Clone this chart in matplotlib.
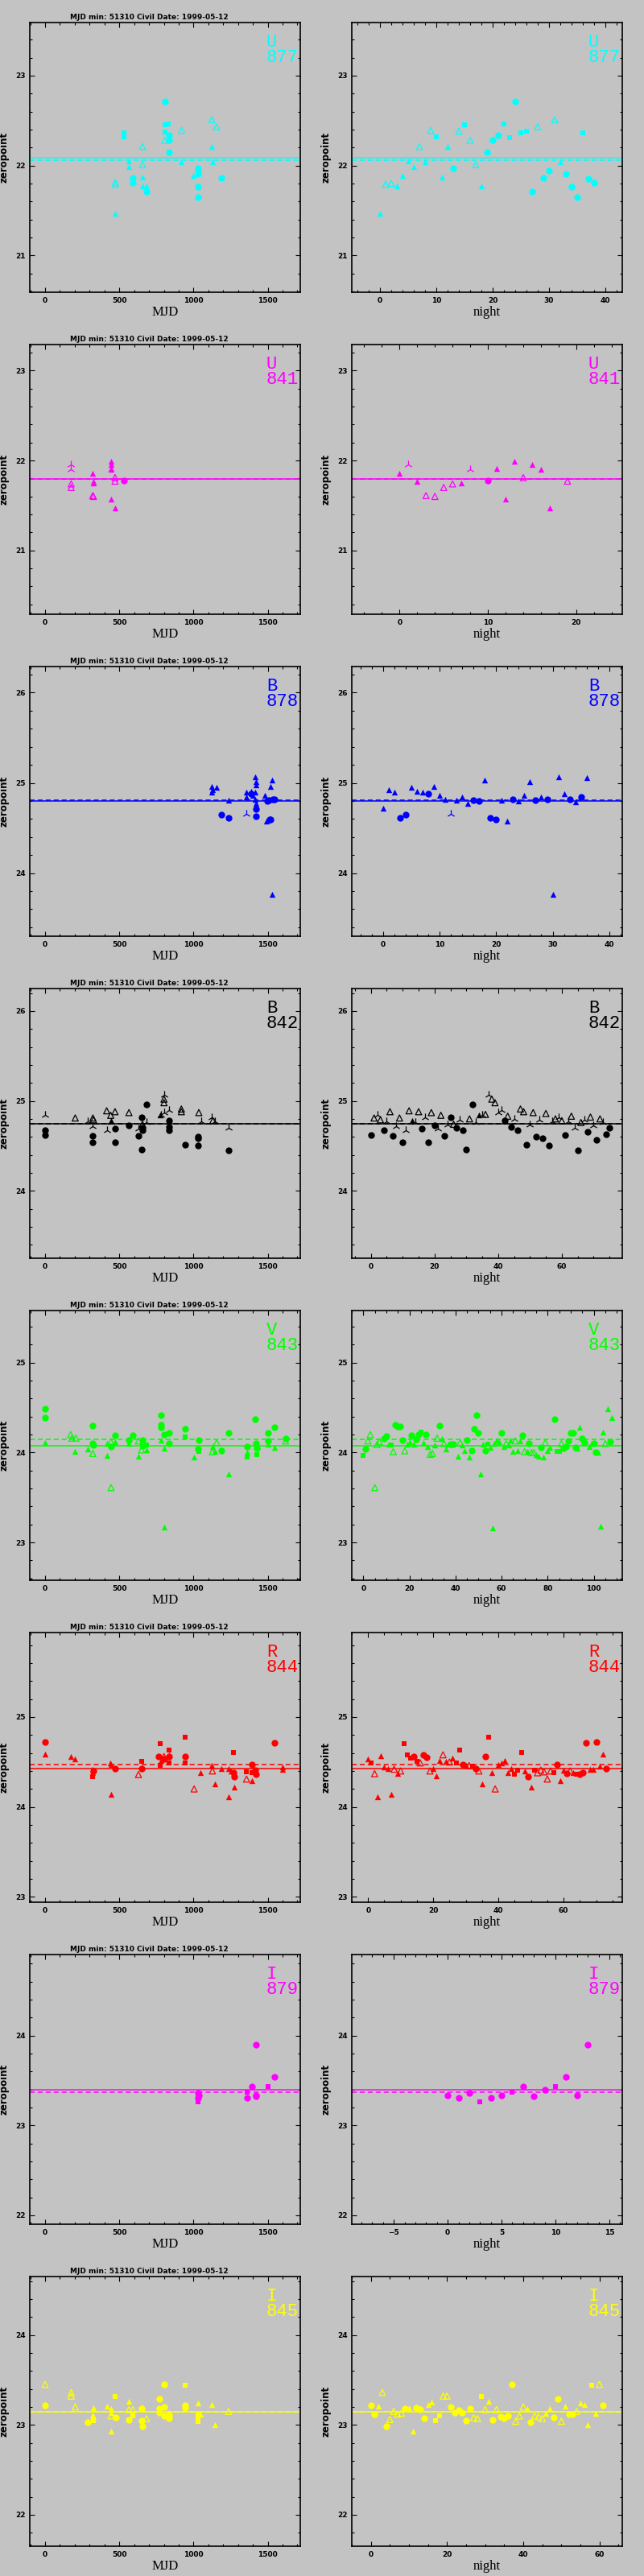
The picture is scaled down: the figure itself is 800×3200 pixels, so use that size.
import matplotlib
matplotlib.use('Agg')
import matplotlib.pyplot as plt
from matplotlib.ticker import MultipleLocator

BG = '#c3c3c3'
TITLE = 'MJD min: 51310 Civil Date: 1999-05-12'

# marker codes: o filled circle, s filled square, ^ filled triangle,
#               t open triangle, y three-armed star
def codes(s):
    return s.replace(' ', '')

# ---------------- U 877 ----------------
u877_mjd = [471, 473, 473, 532, 532, 565, 565, 592, 592, 656, 656, 656, 656, 682, 682,
            806, 806, 832, 806, 806, 833, 833, 833, 919, 919, 1000, 1033, 1033, 1033,
            1033, 1033, 1123, 1123, 1126, 1154, 1187]
u877_mjd_zp = [21.47, 21.79, 21.81, 22.36, 22.32, 22.05, 21.99, 21.86, 21.81, 22.21, 22.01,
               21.87, 21.77, 21.77, 21.71, 22.71, 22.45, 22.46, 22.37, 22.28, 22.34, 22.28,
               22.15, 22.39, 22.04, 21.89, 21.97, 21.94, 21.91, 21.76, 21.65, 22.51, 22.21,
               22.04, 22.43, 21.86]
u877_mjd_sym = codes('^ttss ^^oot t^^^o ossst ooot^ ^oooo ot^^to')
u877_night = list(range(39))
u877_night_zp = [21.47, 21.79, 21.80, 21.77, 21.89, 22.05, 21.99, 22.21, 22.04, 22.39, 22.32,
                 21.87, 22.21, 21.97, 22.38, 22.45, 22.28, 22.01, 21.77, 22.15, 22.28, 22.34,
                 22.46, 22.31, 22.71, 22.36, 22.38, 21.71, 22.43, 21.86, 21.94, 22.51, 22.04,
                 21.91, 21.76, 21.65, 22.36, 21.85, 21.81]
u877_night_sym = codes('^tt^^ ^^t^t s^^ot stt^o oosso ssoto ot^oo osoo')

# ---------------- U 841 ----------------
u841_mjd = [176, 176, 176, 176, 321, 326, 326, 321, 326, 444, 444, 442, 442, 447, 471, 471, 471, 533]
u841_mjd_zp = [21.96, 21.90, 21.74, 21.70, 21.86, 21.77, 21.75, 21.61, 21.60, 21.99, 21.96,
               21.91, 21.90, 21.57, 21.81, 21.77, 21.47, 21.78]
u841_mjd_sym = codes('yytt^ ^^tt^ ^^^^t t^o')
u841_night = [0, 1, 2, 3, 4, 5, 6, 7, 8, 10, 11, 12, 13, 14, 15, 16, 17, 19]
u841_night_zp = [21.86, 21.96, 21.77, 21.61, 21.60, 21.70, 21.74, 21.75, 21.90, 21.78, 21.91,
                 21.57, 21.99, 21.81, 21.96, 21.90, 21.47, 21.77]
u841_night_sym = codes('^y^tt tt^yo ^^^t^ ^^t')

# ---------------- B 878 ----------------
b878_mjd = [1123, 1123, 1127, 1156, 1187, 1236, 1236, 1357, 1357, 1357, 1390, 1390, 1399, 1417,
            1420, 1420, 1417, 1417, 1420, 1420, 1420, 1480, 1489, 1498, 1507, 1513, 1516, 1516,
            1531, 1534, 1547, 1531]
b878_mjd_zp = [24.96, 24.90, 24.92, 24.95, 24.65, 24.61, 24.81, 24.66, 24.90, 24.84, 24.91,
               24.88, 24.86, 25.07, 25.01, 24.98, 24.90, 24.82, 24.77, 24.71, 24.63, 24.86,
               24.58, 24.80, 24.81, 24.59, 24.59, 24.96, 25.03, 24.82, 24.82, 23.76]
b878_mjd_sym = codes('^^^^o o^y^^ ^o^^^ ^^^^o o^^oo oo^^o o^')
b878_night = list(range(37))
b878_night_zp = [24.72, 24.92, 24.90, 24.61, 24.65, 24.95, 24.91, 24.90, 24.88, 24.96, 24.86,
                 24.82, 24.66, 24.81, 24.84, 24.77, 24.81, 24.80, 25.03, 24.61, 24.59, 24.81,
                 24.58, 24.82, 24.80, 24.86, 25.01, 24.81, 24.84, 24.82, 23.76, 25.07,
                 24.88, 24.82, 24.79, 24.84, 25.06]
b878_night_sym = codes('^^^oo ^^^o^ ^^y^^ ^oo^o o^^o^ ^^o^o ^^ ^o^o^')

# ---------------- B 842 ----------------
b842_mjd = [0, 0, 0, 203, 290, 322, 326, 322, 322, 322, 415, 415, 442, 444, 444, 471, 471, 471,
            565, 565, 629, 629, 650, 656, 656, 656, 650, 683, 683, 774, 779, 804, 801, 801, 804,
            833, 833, 833, 833, 918, 918, 942, 1036, 1033, 1033, 1033, 1051, 1123, 1130, 1145,
            1236, 1236]
b842_mjd_zp = [24.84, 24.67, 24.62, 24.81, 24.77, 24.81, 24.79, 24.72, 24.61, 24.54, 24.89,
               24.67, 24.84, 24.78, 24.76, 24.88, 24.69, 24.54, 24.87, 24.73, 24.69, 24.61,
               24.82, 24.74, 24.70, 24.67, 24.46, 24.96, 24.76, 24.84, 24.84, 25.07, 25.02,
               24.98, 24.87, 24.90, 24.78, 24.71, 24.67, 24.91, 24.88, 24.51, 24.87, 24.60,
               24.58, 24.50, 24.77, 24.82, 24.78, 24.77, 24.70, 24.45]
b842_mjd_sym = codes('yooty ttyoo tyt^y tooto yooto oooy^ yytty yooot totoo oyyty yo')
b842_night = list(range(76))
b842_night_zp = [24.62, 24.81, 24.84, 24.79, 24.67, 24.77, 24.88, 24.61, 24.72, 24.81,
                 24.54, 24.67, 24.89, 24.78, 24.76, 24.88, 24.69, 24.82, 24.54, 24.87,
                 24.73, 24.69, 24.84, 24.61, 24.74, 24.82, 24.74, 24.70, 24.79, 24.67,
                 24.46, 24.80, 24.96, 24.76, 24.84, 24.84, 24.85, 25.07, 25.02, 24.98,
                 24.87, 24.90, 24.78, 24.83, 24.71, 24.80, 24.67, 24.91, 24.88, 24.51,
                 24.74, 24.87, 24.60, 24.79, 24.58, 24.86, 24.50, 24.77, 24.80, 24.82,
                 24.78, 24.62, 24.77, 24.83, 24.70, 24.45, 24.76, 24.79, 24.66, 24.82,
                 24.73, 24.57, 24.80, 24.76, 24.63, 24.70]
b842_night_sym = codes('otytoytoyt oyt^ytoyot oytoyotoyo otoy^ytytt yyotoyotto '
                       'ytoyotoyty toytyotyot yotyoo')

# ---------------- V 843 ----------------
v843_mjd = [0, 0, 0, 172, 181, 207, 203, 288, 322, 322, 326, 322, 417, 417, 444, 444, 444, 471,
            471, 565, 565, 592, 629, 629, 656, 650, 656, 683, 683, 779, 779, 779, 779, 804, 804,
            804, 833, 833, 946, 946, 1004, 1036, 1033, 1036, 1127, 1127, 1145, 1156, 1187, 1236,
            1236, 1359, 1359, 1362, 1417, 1420, 1426, 1426, 1431, 1504, 1504, 1504, 1543, 1543,
            1620, 1620]
v843_mjd_zp = [24.49, 24.39, 24.11, 24.20, 24.16, 24.16, 24.01, 24.04, 24.30, 24.10, 24.08,
               23.99, 23.97, 24.10, 24.12, 24.07, 23.61, 24.19, 24.12, 24.14, 24.10, 24.19,
               24.13, 23.96, 24.14, 24.03, 24.07, 24.08, 24.03, 24.42, 24.31, 24.28, 24.14,
               24.20, 24.05, 23.17, 24.22, 24.10, 24.26, 24.17, 23.95, 24.14, 24.04, 24.01,
               24.07, 24.01, 24.01, 24.11, 24.02, 24.22, 23.76, 24.07, 24.00, 23.95, 24.37,
               24.10, 24.05, 23.98, 24.07, 24.22, 24.13, 24.09, 24.28, 24.06, 24.16, 24.13]
v843_mjd_sym = codes('oo^tt t^^oo ot^^t oto^o ^ot^o tss^o oo^o^ ^ooos ^oos^ t^too ^o^so oos^o o^o^ot')
v843_night = [0, 1, 2, 3, 5, 6, 7, 9, 10, 11,
              12, 13, 14, 15, 16, 17, 18, 19, 20, 21,
              22, 23, 24, 25, 26, 27, 28, 29, 30, 31,
              32, 33, 34, 35, 36, 37, 38, 39, 41, 42,
              43, 44, 45, 46, 47, 48, 49, 50, 51, 52,
              53, 54, 55, 56, 57, 58, 59, 60, 61, 62,
              63, 64, 65, 66, 67, 68, 69, 70, 71, 72,
              73, 74, 75, 76, 77, 78, 79, 80, 81, 83,
              84, 85, 86, 87, 88, 89, 90, 91, 92, 93,
              94, 95, 96, 98, 99, 100, 101, 102, 103, 104,
              105, 106, 107, 108]
v843_night_zp = [23.97, 24.04, 24.13, 24.20, 23.61, 24.09, 24.12, 24.16, 24.18, 24.09,
                 24.08, 24.01, 24.31, 24.29, 24.29, 24.14, 24.02, 24.09, 24.12, 24.19,
                 24.09, 24.15, 24.20, 24.23, 24.11, 24.20, 24.07, 23.98, 23.99, 24.08,
                 24.16, 24.30, 24.16, 24.10, 24.04, 24.09, 24.09, 24.09, 23.96, 24.11,
                 24.08, 24.02, 24.14, 23.95, 24.02, 24.26, 24.42, 24.22, 23.76, 24.09,
                 24.02, 24.09, 24.06, 23.16, 24.10, 24.14, 24.12, 24.22, 24.07, 24.10,
                 24.08, 24.14, 24.01, 24.13, 24.02, 24.13, 24.19, 24.01, 24.01, 24.10,
                 24.00, 24.00, 23.98, 23.96, 24.06, 23.95, 24.11, 24.02, 24.06, 24.37,
                 24.01, 24.01, 24.10, 24.05, 24.07, 24.13, 24.22, 24.22, 24.06, 24.05,
                 24.28, 24.16, 24.11, 24.07, 24.10, 24.10, 24.00, 24.00, 23.18, 24.23,
                 24.10, 24.49, 24.12, 24.39]
v843_night_sym = codes('sottttt oo^ stoooot^^o ^oos^o^tt^ to^t^^oo^t ^^o^oooo^^ '
                       'os^^^^^o^t ^^^t^^ot^o tt^^o^t^^o sstoooooo^^ oo^^oo^^^t ^o^o')

# ---------------- R 844 ----------------
r844_mjd = [0, 0, 176, 203, 322, 322, 326, 322, 438, 444, 447, 471, 629, 650, 650, 764, 777, 774,
            779, 801, 804, 833, 833, 833, 833, 946, 946, 946, 1004, 1045, 1123, 1127, 1145, 1187,
            1236, 1236, 1254, 1268, 1268, 1272, 1277, 1353, 1357, 1393, 1393, 1393, 1417, 1420,
            1547, 1598, 1601]
r844_mjd_zp = [24.72, 24.59, 24.56, 24.53, 24.42, 24.38, 24.40, 24.34, 24.49, 24.47, 24.14,
               24.43, 24.36, 24.51, 24.43, 24.56, 24.70, 24.46, 24.52, 24.56, 24.53, 24.63,
               24.56, 24.49, 24.58, 24.78, 24.56, 24.49, 24.20, 24.38, 24.46, 24.40, 24.26,
               24.43, 24.43, 24.11, 24.40, 24.61, 24.38, 24.34, 24.22, 24.39, 24.31, 24.47,
               24.38, 24.29, 24.41, 24.36, 24.71, 24.44, 24.42]
r844_mjd_sym = codes('o^^^^ ^os^^ ^otso oss^t osos^ sost^ ^t^^^ ^^soo ^stos ^ooo^ ^')
r844_night = list(range(74))
r844_night_zp = [24.53, 24.49, 24.37, 24.11, 24.57, 24.44, 24.43, 24.14, 24.42, 24.37,
                 24.40, 24.70, 24.58, 24.54, 24.56, 24.51, 24.49, 24.58, 24.55, 24.40,
                 24.43, 24.35, 24.52, 24.58, 24.51, 24.50, 24.54, 24.49, 24.63, 24.47,
                 24.46, 24.46, 24.45, 24.43, 24.40, 24.26, 24.56, 24.78, 24.38, 24.20,
                 24.47, 24.49, 24.52, 24.38, 24.43, 24.36, 24.41, 24.61, 24.40, 24.34,
                 24.22, 24.41, 24.38, 24.41, 24.39, 24.31, 24.40, 24.38, 24.47, 24.29,
                 24.41, 24.37, 24.40, 24.38, 24.36, 24.36, 24.38, 24.71, 24.42, 24.42,
                 24.72, 24.45, 24.59, 24.43]
r844_night_sym = codes('^st^^^^^t^ tsssostoot ^^^t^t^sso ^tsot^os^t ^^^^^sss^o '
                       '^sttttts o^ ^ot^sooo^^ o^^o')

# ---------------- I 879 ----------------
i879_mjd = [1033, 1036, 1033, 1033, 1359, 1362, 1393, 1420, 1420, 1420, 1502, 1547]
i879_mjd_zp = [23.36, 23.33, 23.31, 23.26, 23.37, 23.31, 23.43, 23.90, 23.33, 23.32, 23.43, 23.54]
i879_mjd_sym = codes('oooss ooooo so')
i879_night = list(range(14))
i879_night_zp = [23.33, 23.31, 23.36, 23.26, 23.31, 23.33, 23.37, 23.43, 23.32, 23.40,
                 23.43, 23.54, 23.33, 23.90]
i879_night_sym = codes('ooosoosooo soooo')

# ---------------- I 845 ----------------
i845_mjd = [0, 0, 176, 176, 203, 288, 326, 322, 326, 326, 415, 444, 444, 444, 447, 471, 475,
            565, 565, 565, 592, 592, 650, 652, 650, 656, 683, 768, 768, 768, 804, 804, 804, 833,
            833, 833, 946, 946, 946, 1033, 1033, 1033, 1033, 1045, 1123, 1145, 1236]
i845_mjd_zp = [23.45, 23.22, 23.36, 23.32, 23.20, 23.03, 23.19, 23.11, 23.09, 23.05, 23.21,
               23.18, 23.14, 23.10, 22.93, 23.32, 23.08, 23.26, 23.17, 23.06, 23.17, 23.10,
               23.20, 23.18, 23.05, 22.98, 23.07, 23.29, 23.18, 23.14, 23.45, 23.20, 23.10,
               23.14, 23.11, 23.07, 23.44, 23.22, 23.19, 23.24, 23.12, 23.07, 23.04, 23.12,
               23.23, 23.00, 23.15]
i845_mjd_sym = codes('tottt o^^^s ^^^t^ so^to ts^oo otooo ooo^o osoo^ sss^^ ^t')
i845_night = list(range(62))
i845_night_zp = [23.22, 23.12, 23.21, 23.36, 22.98, 23.06, 23.15, 23.12, 23.13, 23.18,
                 23.19, 22.93, 23.19, 23.17, 23.07, 23.23, 23.25, 23.05, 23.10, 23.32,
                 23.32, 23.20, 23.14, 23.16, 23.14, 23.05, 23.18, 23.08, 23.07, 23.32,
                 23.17, 23.26, 23.06, 23.17, 23.09, 23.07, 23.10, 23.45, 23.04, 23.10,
                 23.20, 23.18, 23.03, 23.10, 23.09, 23.07, 23.13, 23.18, 23.08, 23.29,
                 23.04, 23.21, 23.12, 23.12, 23.15, 23.24, 23.23, 23.00, 23.44, 23.13,
                 23.45, 23.22]
i845_night_sym = codes('oo^totttto ^^ooo^^sst tooooootts t^otoooott t^ottt^^oo t^oot^^^s^ to')

bands = ['U', 'U', 'B', 'B', 'V', 'R', 'I', 'I']
chips = ['877', '841', '878', '842', '843', '844', '879', '845']
colors = ['#00ffff', '#ff00ff', '#0000ff', '#000000', '#00ff00', '#ff0000', '#ff00ff', '#ffff00']
zp_mean = [22.09, 21.79, 24.80, 24.75, 24.075, 24.43, 23.40, 23.15]
zp_median = [22.06, 21.79, 24.81, 24.75, 24.15, 24.47, 23.37, 23.15]
y_lims = [(20.59, 23.59), (20.29, 23.29), (23.30, 26.29), (23.25, 26.25),
          (22.58, 25.58), (22.94, 25.94), (21.90, 24.90), (21.65, 24.65)]
night_lims = [(-5, 43), (-5.4, 25.2), (-5.5, 42.3), (-6, 79),
              (-5, 112.4), (-5, 78), (-8.9, 16.2), (-5, 66)]
night_major = [10, 10, 10, 20, 20, 20, 5, 20]
night_minor = [2, 2, 2, 5, 5, 5, 1, 5]

mjd_sets = [(u877_mjd, u877_mjd_zp, u877_mjd_sym), (u841_mjd, u841_mjd_zp, u841_mjd_sym),
            (b878_mjd, b878_mjd_zp, b878_mjd_sym), (b842_mjd, b842_mjd_zp, b842_mjd_sym),
            (v843_mjd, v843_mjd_zp, v843_mjd_sym), (r844_mjd, r844_mjd_zp, r844_mjd_sym),
            (i879_mjd, i879_mjd_zp, i879_mjd_sym), (i845_mjd, i845_mjd_zp, i845_mjd_sym)]
night_sets = [(u877_night, u877_night_zp, u877_night_sym), (u841_night, u841_night_zp, u841_night_sym),
              (b878_night, b878_night_zp, b878_night_sym), (b842_night, b842_night_zp, b842_night_sym),
              (v843_night, v843_night_zp, v843_night_sym), (r844_night, r844_night_zp, r844_night_sym),
              (i879_night, i879_night_zp, i879_night_sym), (i845_night, i845_night_zp, i845_night_sym)]


def plot_points(ax, x, y, sym, color):
    n = min(len(x), len(y), len(sym))
    for code in 'ts^oy':
        idx = [i for i in range(n) if sym[i] == code]
        if not idx:
            continue
        xs = [x[i] for i in idx]
        ys = [y[i] for i in idx]
        if code == 't':
            ax.scatter(xs, ys, marker='^', s=30, facecolors='none', edgecolors=color,
                       linewidths=0.9, zorder=3)
        elif code == 'y':
            ax.scatter(xs, ys, marker='2', s=55, color=color, linewidths=0.9, zorder=3)
        elif code == 'o':
            ax.scatter(xs, ys, marker='o', s=36, color=color, linewidths=0, zorder=3)
        elif code == 's':
            ax.scatter(xs, ys, marker='s', s=22, color=color, linewidths=0, zorder=3)
        else:
            ax.scatter(xs, ys, marker='^', s=28, color=color, linewidths=0, zorder=3)


def setup(ax, xlim, ylim, xmaj, xmin, xlabel):
    ax.set_facecolor(BG)
    ax.set_xlim(xlim)
    ax.set_ylim(ylim)
    ax.xaxis.set_major_locator(MultipleLocator(xmaj))
    ax.xaxis.set_minor_locator(MultipleLocator(xmin))
    ax.yaxis.set_major_locator(MultipleLocator(1))
    ax.yaxis.set_minor_locator(MultipleLocator(0.2))
    ax.tick_params(which='both', direction='in', top=True, right=True, width=0.8,
                   labelsize=6.5, colors='black')
    ax.tick_params(which='major', length=4, pad=4)
    ax.tick_params(which='minor', length=2.2)
    for lab in ax.get_xticklabels() + ax.get_yticklabels():
        lab.set_fontweight('bold')
    for sp in ax.spines.values():
        sp.set_linewidth(1.2)
    ax.set_xlabel(xlabel, family='Liberation Serif', fontsize=12)
    ax.xaxis.set_label_coords(0.5, -0.05)
    ax.set_ylabel('zeropoint', fontweight='bold', fontsize=8.5)
    ax.yaxis.set_label_coords(-0.075, 0.5)


fig = plt.figure(figsize=(8, 32), dpi=100)
fig.patch.set_facecolor(BG)

for r in range(8):
    color = colors[r]
    for c in range(2):
        ax = fig.add_axes([(c * 400 + 37) / 800, 1 - (r * 400 + 363) / 3200,
                           336 / 800, 335 / 3200])
        if c == 0:
            x, y, sym = mjd_sets[r]
            setup(ax, (-103, 1719), y_lims[r], 500, 100, 'MJD')
            fig.text(87 / 800, 1 - (r * 400 + 21) / 3200, TITLE, fontsize=6.5,
                     fontweight='bold', va='center', ha='left')
        else:
            x, y, sym = night_sets[r]
            setup(ax, night_lims[r], y_lims[r], night_major[r], night_minor[r], 'night')
        ax.axhline(zp_mean[r], color=color, lw=1.1, zorder=2)
        ax.axhline(zp_median[r], color=color, lw=1.1, ls=(0, (4, 2.5)), zorder=2)
        plot_points(ax, x, y, sym, color)
        ax.text(0.875, 0.91, bands[r], transform=ax.transAxes, family='Liberation Mono',
                fontsize=16, color=color, va='baseline', ha='left')
        ax.text(0.875, 0.854, chips[r], transform=ax.transAxes, family='Liberation Mono',
                fontsize=16, color=color, va='baseline', ha='left')

fig.savefig('out.png', dpi=100, facecolor=BG)
